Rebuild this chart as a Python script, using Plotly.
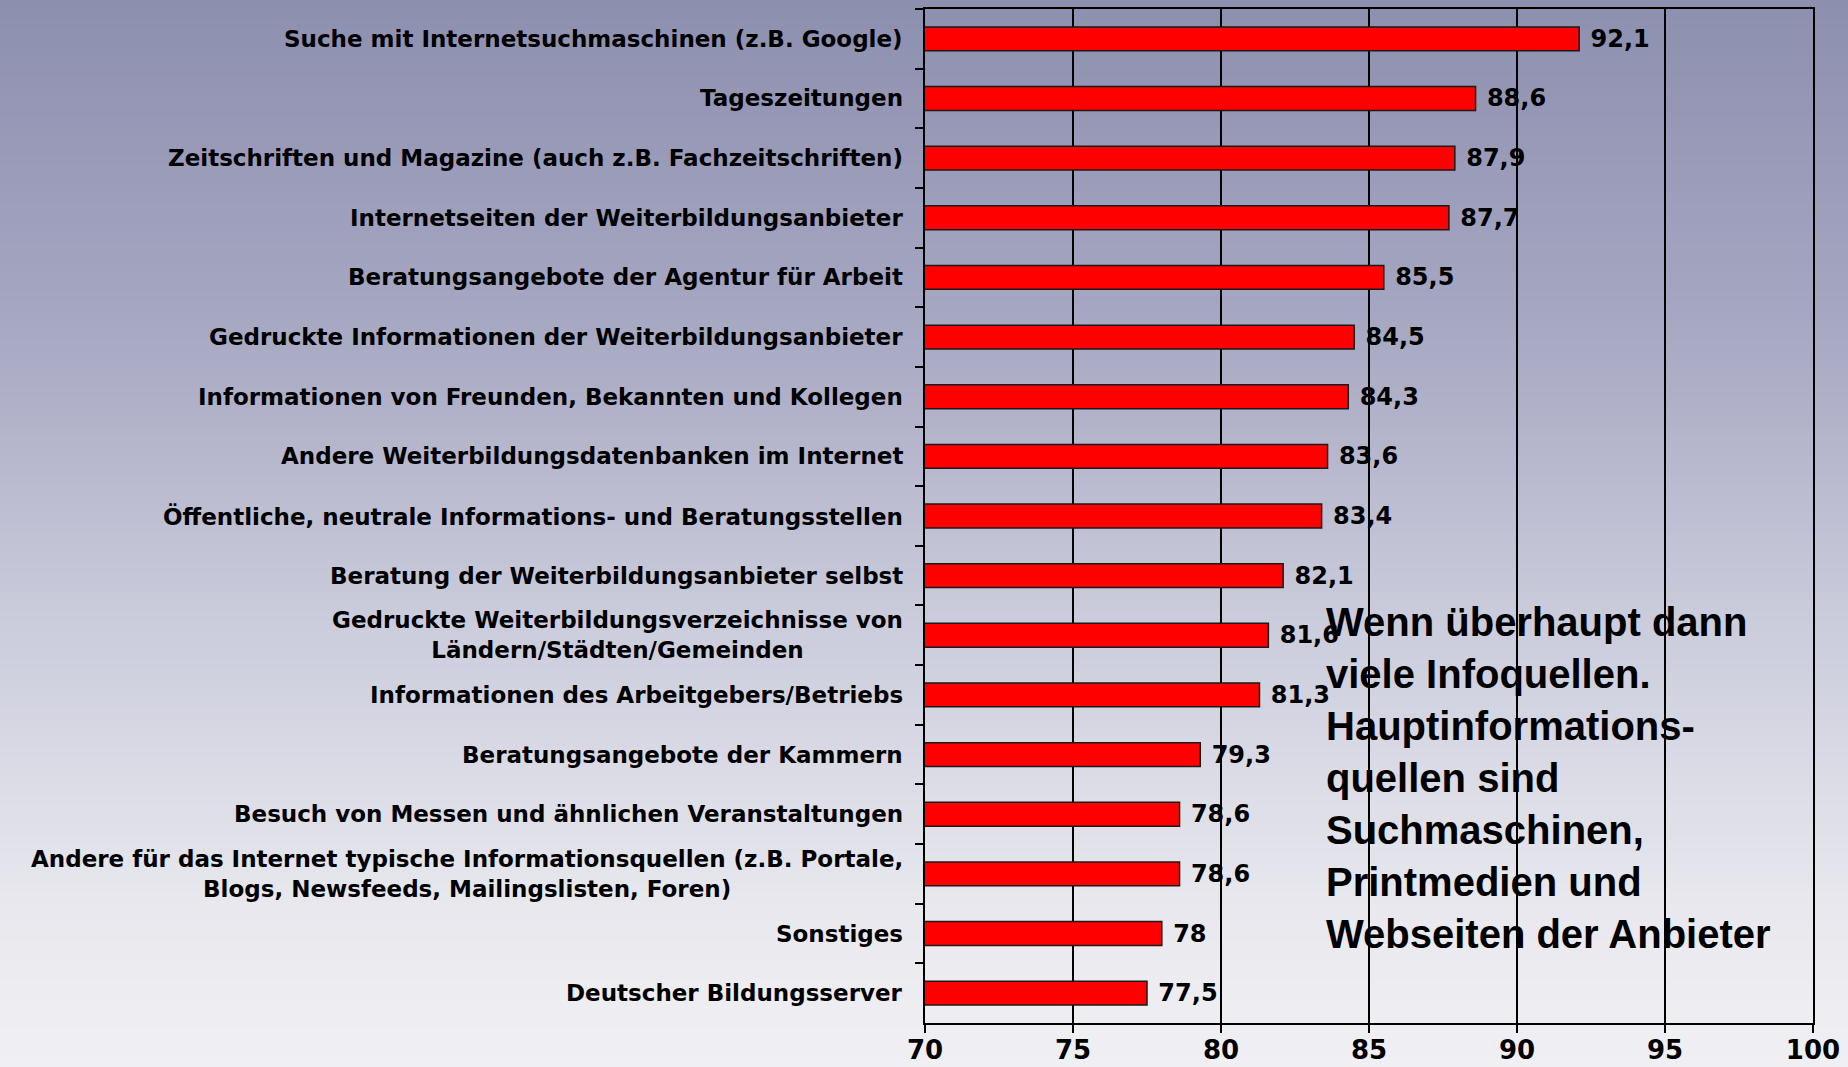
import plotly.graph_objects as go

kategorien = [
    "Suche mit Internetsuchmaschinen (z.B. Google)",
    "Tageszeitungen",
    "Zeitschriften und Magazine (auch z.B. Fachzeitschriften)",
    "Internetseiten der Weiterbildungsanbieter",
    "Beratungsangebote der Agentur für Arbeit",
    "Gedruckte Informationen der Weiterbildungsanbieter",
    "Informationen von Freunden, Bekannten und Kollegen",
    "Andere Weiterbildungsdatenbanken im Internet",
    "Öffentliche, neutrale Informations- und Beratungsstellen",
    "Beratung der Weiterbildungsanbieter selbst",
    "Gedruckte Weiterbildungsverzeichnisse von<br>Ländern/Städten/Gemeinden",
    "Informationen des Arbeitgebers/Betriebs",
    "Beratungsangebote der Kammern",
    "Besuch von Messen und ähnlichen Veranstaltungen",
    "Andere für das Internet typische Informationsquellen (z.B. Portale,<br>Blogs, Newsfeeds, Mailingslisten, Foren)",
    "Sonstiges",
    "Deutscher Bildungsserver",
]
werte = [92.1, 88.6, 87.9, 87.7, 85.5, 84.5, 84.3, 83.6, 83.4, 82.1,
         81.6, 81.3, 79.3, 78.6, 78.6, 78, 77.5]
x_ticks = [70, 75, 80, 85, 90, 95, 100]

hinweis = ("Wenn überhaupt dann<br>viele Infoquellen.<br>Hauptinformations-<br>"
           "quellen sind<br>Suchmaschinen,<br>Printmedien und<br>Webseiten der Anbieter")

W, H = 1848, 1067
M = dict(l=925, r=35, t=9, b=44)
ph = H - M["t"] - M["b"]
pw = W - M["l"] - M["r"]

fig = go.Figure()
fig.add_trace(go.Bar(
    x=werte, y=kategorien, orientation="h",
    width=0.4,
    marker=dict(color="#ff0000", line=dict(color="#1a1a1a", width=1.5)),
    text=[" " + f"{v:g}".replace(".", ",") for v in werte],
    textposition="outside", cliponaxis=False, constraintext="none",
    textfont=dict(family="DejaVu Sans", size=24, color="black", weight="bold"),
    hoverinfo="skip",
))

# category labels (centered multi-line)
for k in kategorien:
    fig.add_annotation(x=0, xref="paper", y=k, yref="y", text=k, showarrow=False,
                       xanchor="right", align="center", xshift=-20,
                       font=dict(family="DejaVu Sans", size=23, color="black", weight="bold"))

fig.add_annotation(x=(1324 - M["l"]) / pw, xref="paper", y=(H - M["b"] - 598) / ph, yref="paper",
                   text=hinweis, showarrow=False, xanchor="left", yanchor="top", align="left",
                   font=dict(family="Liberation Sans", size=40, color="black", weight="bold"))

# background gradient
stops = [(0.0, (141, 143, 175)), (0.3, (166, 167, 194)), (0.6, (205, 206, 221)),
         (0.85, (232, 232, 238)), (1.0, (240, 240, 244))]

def farbe(f):
    for (f0, c0), (f1, c1) in zip(stops[:-1], stops[1:]):
        if f <= f1:
            t = (f - f0) / (f1 - f0)
            return "rgb(%d,%d,%d)" % tuple(round(a + (b - a) * t) for a, b in zip(c0, c1))
    return "rgb(%d,%d,%d)" % stops[-1][1]

n = 110
for i in range(n):
    y0 = i * H / n
    y1 = (i + 1) * H / n + 1
    fig.add_shape(type="rect", xref="paper", yref="paper",
                  x0=-M["l"] / pw - 0.01, x1=(W - M["l"]) / pw + 0.01,
                  y0=(H - M["b"] - y1) / ph, y1=(H - M["b"] - y0) / ph,
                  fillcolor=farbe((i + 0.5) / n), line=dict(width=0), layer="below")

fig.update_layout(
    width=W, height=H, margin=M,
    paper_bgcolor="rgb(240,240,244)", plot_bgcolor="rgba(0,0,0,0)",
    showlegend=False, bargap=0.6,
    xaxis=dict(range=[70, 100], tickvals=x_ticks, showgrid=True, gridcolor="black", gridwidth=1.5,
               showline=True, linecolor="black", linewidth=1.5, mirror=True,
               ticks="outside", ticklen=8, tickcolor="black", tickwidth=1.5,
               zeroline=False, ticklabelstandoff=-5, automargin=False,
               tickfont=dict(family="DejaVu Sans", size=26, color="black", weight="bold")),
    yaxis=dict(autorange="reversed", showticklabels=False, showgrid=False,
               showline=True, linecolor="black", linewidth=1.5, mirror=True,
               ticks="outside", ticklen=8, tickcolor="black", tickwidth=1.5,
               tickson="boundaries", automargin=False),
)

fig.write_html("out.html", config={"displayModeBar": False},
               post_script="document.body.style.margin='0';document.body.style.overflow='hidden';")
